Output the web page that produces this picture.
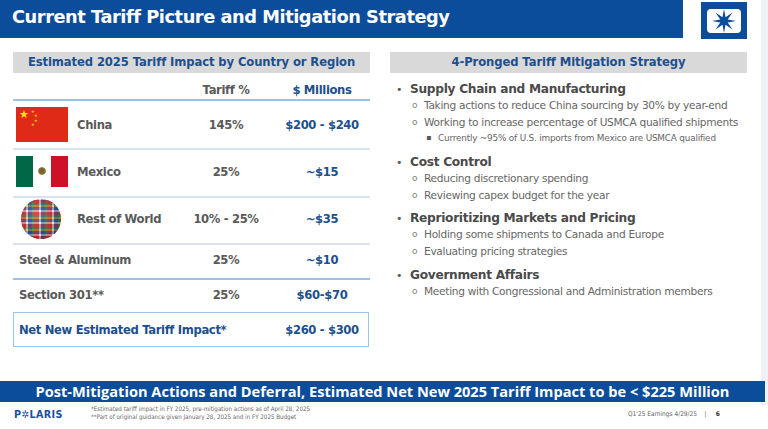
<!DOCTYPE html>
<html>
<head>
<meta charset="utf-8">
<script src="https://cdn.jsdelivr.net/npm/chart.js@4.4.1/dist/chart.umd.min.js"></script>
<style>
  html, body { margin: 0; padding: 0; }
  body { width: 768px; height: 429px; position: relative; overflow: hidden; background: #fff; font-family: "DejaVu Sans", Verdana, sans-serif; }
  .abs { position: absolute; }
  #titleBar { left: 0; top: 0; width: 683px; height: 38px; background: #0b4d9a; }
  #title { left: 12px; top: 6px; color: #fff; font-weight: bold; font-size: 17.8px; letter-spacing: -0.45px; white-space: nowrap; }
  #logoBox { left: 701px; top: 2px; width: 46px; height: 37px; background: #0b4d9a; }
  #sideStrip { left: 761px; top: 0; width: 7px; height: 405px; background: #eef1f5; }
  .panelHead { top: 52px; height: 21px; background: #d9d9d9; color: #1d4f8c; font-weight: bold; font-size: 11.6px; line-height: 21px; text-align: center; white-space: nowrap; letter-spacing: -0.1px; }
  #banner { left: 0; top: 381px; width: 765px; height: 21px; background: #0b4d9a; color: #fff; font-family: "Open Sans", sans-serif; font-weight: bold; font-size: 14.6px; line-height: 21px; text-align: center; white-space: nowrap; }
  #polaris { left: 14px; top: 408px; color: #1a4fa0; font-weight: bold; font-size: 9.6px; letter-spacing: 0.4px; transform: scaleY(1.15); transform-origin: left top; font-family: "DejaVu Sans", sans-serif; }
  .foot { font-size: 6.2px; color: #666; white-space: nowrap; font-family: "Liberation Sans Narrow", "DejaVu Sans Condensed", sans-serif; }
</style>
</head>
<body>
<div class="abs" id="sideStrip"></div>
<div class="abs" id="titleBar"></div>
<div class="abs" id="title">Current Tariff Picture and Mitigation Strategy</div>
<div class="abs" id="logoBox"><canvas id="logo" width="46" height="37"></canvas></div>

<div class="abs panelHead" style="left:13px;width:357px;">Estimated 2025 Tariff Impact by Country or Region</div>
<div class="abs panelHead" style="left:390px;width:357px;">4-Pronged Tariff Mitigation Strategy</div>

<div class="abs" id="banner">Post-Mitigation Actions and Deferral, Estimated Net New 2025 Tariff Impact to be &lt; $225 Million</div>
<div class="abs" id="polaris">P<span style="font-size:9px">✲</span>LARIS</div>
<div class="abs foot" style="left:91px;top:405px;">*Estimated tariff impact in FY 2025, pre-mitigation actions as of April 28, 2025</div>
<div class="abs foot" style="left:91px;top:413px;">**Part of original guidance given January 28, 2025 and in FY 2025 Budget</div>
<div class="abs foot" style="left:628px;top:410px;font-size:6.5px;">Q1'25 Earnings 4/29/25 &nbsp;&nbsp;&nbsp;|&nbsp;&nbsp;&nbsp;&nbsp; <b style="color:#333">6</b></div>

<script>
// tariff table data
const regions = ['China', 'Mexico', 'Rest of World', 'Steel & Aluminum', 'Section 301**'];
const tariffPct = ['145%', '25%', '10% - 25%', '25%', '25%'];
const impactMillions = ['$200 - $240', '~$15', '~$35', '~$10', '$60-$70'];
const netLabel = 'Net New Estimated Tariff Impact*';
const netImpact = '$260 - $300';
const colHeaders = ['Tariff %', '$ Millions'];

// mitigation strategy bullets
const pillars = ['Supply Chain and Manufacturing', 'Cost Control', 'Reprioritizing Markets and Pricing', 'Government Affairs'];
const actions = [
    ['Taking actions to reduce China sourcing by 30% by year-end', 'Working to increase percentage of USMCA qualified shipments'],
    ['Reducing discretionary spending', 'Reviewing capex budget for the year'],
    ['Holding some shipments to Canada and Europe', 'Evaluating pricing strategies'],
    ['Meeting with Congressional and Administration members']
];
const subNote = 'Currently ~95% of U.S. imports from Mexico are USMCA qualified';

const cellFont = 'font-size:11.6px;font-weight:bold;letter-spacing:-0.35px;white-space:nowrap;';
const grey = '#595959', navy = '#1d4f8c';

function el(html, style) {
    let d = document.createElement('div');
    d.className = 'abs';
    d.innerHTML = html;
    d.style.cssText = style;
    document.body.appendChild(d);
    return d;
}

function flagChina(x, y) {
    el('', `left:${x}px;top:${y}px;width:52px;height:35px;background:#e02a18;`);
    el('★', `left:${x + 3}px;top:${y + 1}px;color:#ffde00;font-size:11px;`);
    [[15, 2], [18, 6], [18, 11], [15, 15]].forEach(p => {
        el('★', `left:${x + p[0]}px;top:${y + p[1]}px;color:#ffde00;font-size:4px;`);
    });
}

function flagMexico(x, y) {
    el('', `left:${x}px;top:${y}px;width:52px;height:31px;background:linear-gradient(90deg,#006847 0 33.3%,#fff 33.3% 66.6%,#ce1126 66.6%);`);
    el('', `left:${x + 22}px;top:${y + 11}px;width:8px;height:8px;border-radius:50%;background:radial-gradient(circle,#8c5a2b 0 40%,#6a8a3a 60%,#fff 80%);`);
}

function globe(x, y) {
    el('', `left:${x}px;top:${y}px;width:40px;height:40px;border-radius:50%;
      background:
        radial-gradient(circle at 40% 35%, rgba(255,255,255,0.3), rgba(0,0,0,0.3) 78%),
        repeating-linear-gradient(0deg, #c8202a 0 3px, #fff 3px 5px, #2a4b9b 5px 8px, #e6b022 8px 10px, #1f8a3a 10px 12px),
        #c8202a;`);
    el('', `left:${x}px;top:${y}px;width:40px;height:40px;border-radius:50%;opacity:0.45;
      background:repeating-linear-gradient(90deg, #d62b2b 0 5px, #ffffff 5px 7px, #244a9c 7px 11px, #2a8c3c 11px 13px);`);
}

// table rows
const rowCenters = [126, 173, 220, 261, 296];
const lineYs = [148, 196, 243, 278];
const tariffX = 226, millionX = 322;

el(colHeaders[0], `left:${tariffX}px;top:83px;${cellFont}color:${grey};transform:translateX(-50%);`);
el(colHeaders[1], `left:${millionX}px;top:83px;${cellFont}color:${navy};transform:translateX(-50%);`);
el('', 'left:13px;top:99px;width:357px;height:2px;background:#9cc3e5;');

regions.forEach((r, i) => {
    let cy = rowCenters[i];
    let tx = i < 3 ? 77 : 19;
    el(r, `left:${tx}px;top:${cy - 8}px;${cellFont}color:${grey};`);
    el(tariffPct[i], `left:${tariffX}px;top:${cy - 8}px;${cellFont}color:${grey};transform:translateX(-50%);`);
    el(impactMillions[i], `left:${millionX}px;top:${cy - 8}px;${cellFont}color:${navy};transform:translateX(-50%);`);
});
lineYs.forEach((y, i) => {
    let blue = i === 3;
    el('', `left:13px;top:${y}px;width:357px;height:${blue ? 2 : 1.5}px;background:${blue ? '#9cc3e5' : '#d8e3ee'};`);
});
flagChina(16, 107);
flagMexico(16, 156);
globe(21, 199);

el('', 'left:13px;top:312px;width:354px;height:33px;border:1.5px solid #9cc3e5;');
el(netLabel, `left:19px;top:323px;${cellFont}color:${navy};`);
el(netImpact, `left:${millionX}px;top:323px;${cellFont}color:${navy};transform:translateX(-50%);`);

// strategy bullets
const pillarYs = [91, 164, 220, 277];
pillars.forEach((p, i) => {
    let y = pillarYs[i];
    el('•', `left:396px;top:${y - 8}px;font-size:11px;color:${grey};`);
    el(p, `left:410px;top:${y - 9}px;font-size:12.2px;font-weight:bold;letter-spacing:-0.3px;color:#4a4a4a;white-space:nowrap;`);
    actions[i].forEach((a, j) => {
        let ay = y + 16 + j * 17;
        el('o', `left:412px;top:${ay - 7}px;font-size:9px;color:#7f7f7f;`);
        el(a, `left:424px;top:${ay - 8}px;font-size:10.6px;color:#666;white-space:nowrap;letter-spacing:-0.3px;`);
    });
});
el('▪', 'left:426px;top:133px;font-size:8px;color:#595959;');
el(subNote, 'left:438px;top:133px;font-size:8.9px;color:#666;white-space:nowrap;letter-spacing:-0.2px;');

// logo star
const lc = document.getElementById('logo').getContext('2d');
lc.fillStyle = '#fff';
lc.beginPath();
lc.roundRect(6, 7, 34, 24, 4);
lc.fill();
lc.fillStyle = '#0b4d9a';
lc.beginPath();
for (let k = 0; k < 16; k++) {
    let a = k * Math.PI / 8 - Math.PI / 2;
    let r = k % 2 === 0 ? 12 : 4;
    lc.lineTo(23 + r * Math.cos(a), 19 + r * Math.sin(a));
}
lc.closePath();
lc.fill();
</script>
</body>
</html>
